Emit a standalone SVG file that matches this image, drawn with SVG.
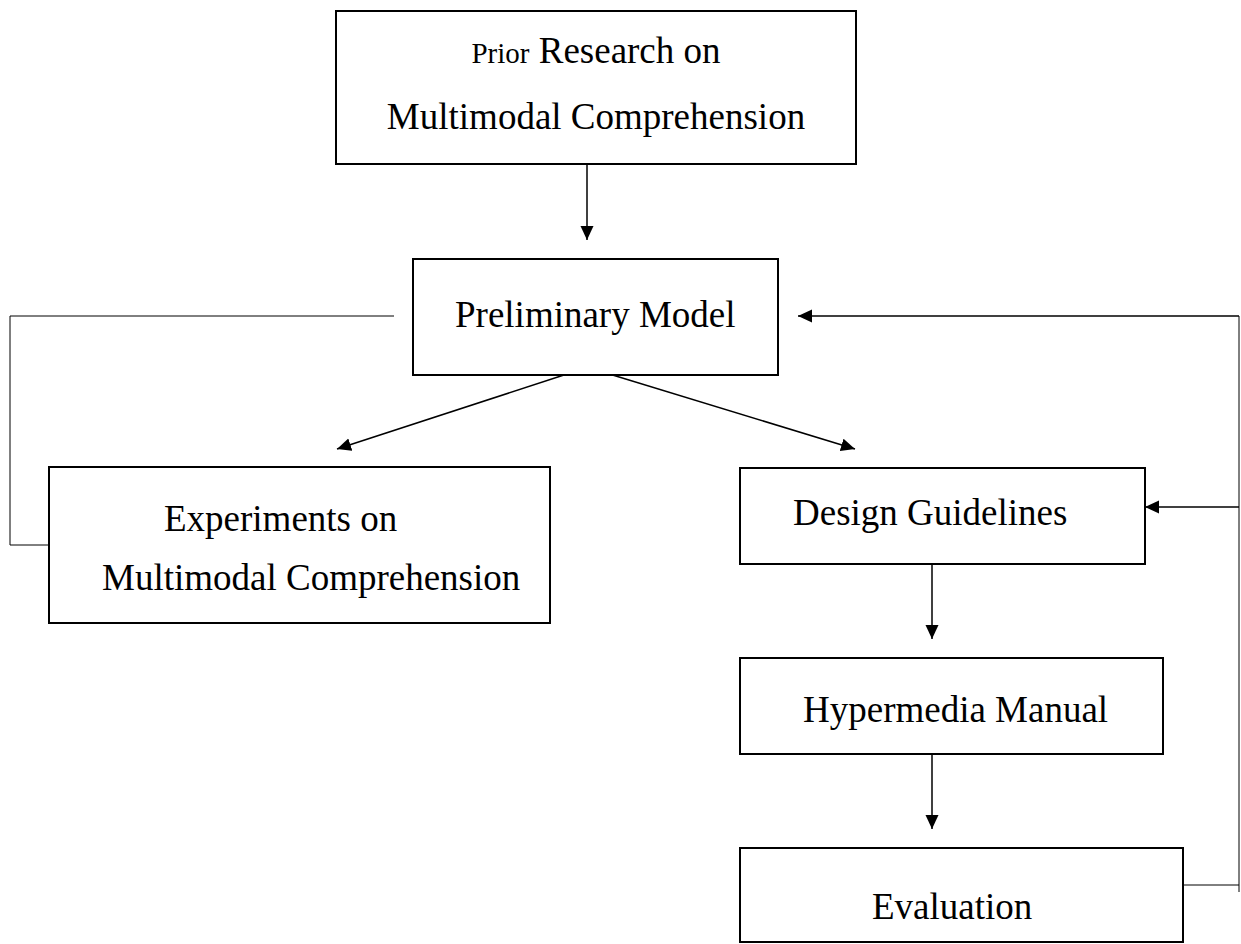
<svg xmlns="http://www.w3.org/2000/svg" width="1241" height="944" viewBox="0 0 1241 944">
<style>
.box{fill:#fff;stroke:#000;stroke-width:2}
.t{font-family:"Liberation Serif","Times New Roman",serif;font-size:37px;fill:#000}
.c{fill:none;stroke:#000;stroke-width:1.5}
.f{fill:none;stroke:#000;stroke-width:1}
</style>
<defs>
<marker id="ah" markerUnits="userSpaceOnUse" markerWidth="15" markerHeight="14" refX="14" refY="6.5" orient="auto">
<path d="M0,0 L14,6.5 L0,13 z" fill="#000"/>
</marker>
</defs>
<rect width="1241" height="944" fill="#fff"/>
<g id="connectors">
<line class="c" x1="587" y1="164" x2="587" y2="240" marker-end="url(#ah)"/>
<line class="c" x1="567" y1="374" x2="337" y2="449" marker-end="url(#ah)"/>
<line class="c" x1="606" y1="373" x2="855" y2="449" marker-end="url(#ah)"/>
<line class="c" x1="932" y1="564" x2="932" y2="639" marker-end="url(#ah)"/>
<line class="c" x1="932" y1="754" x2="932" y2="829" marker-end="url(#ah)"/>
<polyline class="f" points="394,316 10,316 10,545 48,545"/>
<polyline class="f" points="1183,885 1239,885"/>
<line class="f" x1="1239" y1="316" x2="1239" y2="892"/>
<line class="c" x1="1239" y1="316" x2="798" y2="316" marker-end="url(#ah)"/>
<line class="c" x1="1239" y1="507" x2="1145" y2="507" marker-end="url(#ah)"/>
</g>
<g id="prior">
<rect class="box" x="336" y="11" width="520" height="153"/>
<text class="t" x="596" y="63" text-anchor="middle"><tspan font-size="29">Prior</tspan> Research on</text>
<text class="t" x="596" y="129" text-anchor="middle">Multimodal Comprehension</text>
</g>
<g id="preliminary">
<rect class="box" x="413" y="259" width="365" height="116"/>
<text class="t" x="455" y="327">Preliminary Model</text>
</g>
<g id="experiments">
<rect class="box" x="49" y="467" width="501" height="156"/>
<text class="t" x="164" y="531">Experiments on</text>
<text class="t" x="102" y="590">Multimodal Comprehension</text>
</g>
<g id="design">
<rect class="box" x="740" y="468" width="405" height="96"/>
<text class="t" x="793" y="525">Design Guidelines</text>
</g>
<g id="hypermedia">
<rect class="box" x="740" y="658" width="423" height="96"/>
<text class="t" x="803" y="722">Hypermedia Manual</text>
</g>
<g id="evaluation">
<rect class="box" x="740" y="848" width="443" height="94"/>
<text class="t" x="872" y="919">Evaluation</text>
</g>
</svg>
